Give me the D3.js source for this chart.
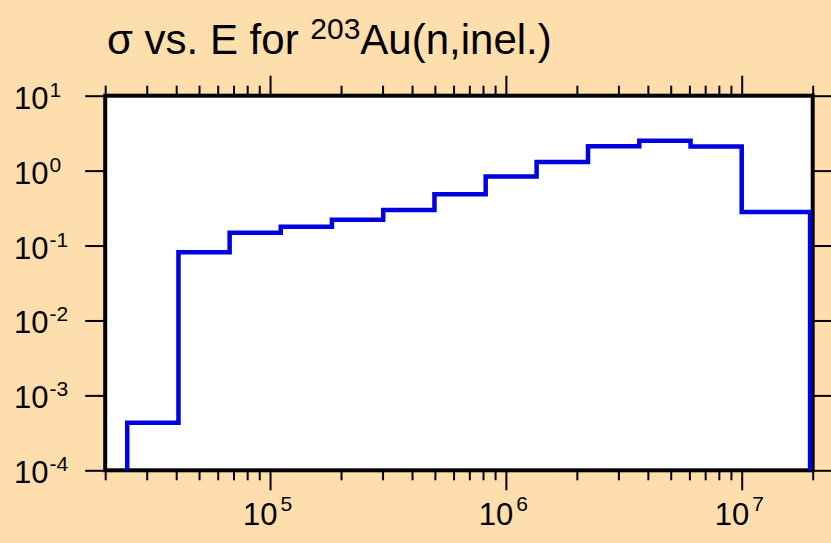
<!DOCTYPE html>
<html>
<head>
<meta charset="utf-8">
<script src="https://cdn.jsdelivr.net/npm/d3@7"></script>
<style>
  html, body { margin: 0; padding: 0; background: #ffdead; }
  svg { display: block; }
  text { font-family: "Liberation Sans", Arial, Helvetica, sans-serif; fill: #000; }
</style>
</head>
<body>
<script>
// ---- data ----
const binEdges = [2.48e4, 4.09e4, 6.74e4, 1.11e5, 1.83e5, 3.02e5, 4.98e5, 8.21e5,
                  1.35e6, 2.23e6, 3.68e6, 6.07e6, 1.0e7, 1.95e7];
const sigmaValues = [4.3e-4, 0.0813, 0.148, 0.178, 0.221, 0.298, 0.484, 0.835,
                     1.30, 2.12, 2.50, 2.10, 0.281];
const xMajorTicks = [1e5, 1e6, 1e7];
const xMajorExps = ["5", "6", "7"];
const yMajorTicks = [1e1, 1e0, 1e-1, 1e-2, 1e-3, 1e-4];
const yMajorExps = ["1", "0", "-1", "-2", "-3", "-4"];
const xDomain = [2e4, 2e7];
const yDomain = [1e-4, 1e1];
const titleParts = ["σ vs. E for ", "203", "Au(n,inel.)"];

// ---- layout ----
const W = 831, H = 543;
const x = d3.scaleLog().domain(xDomain).range([105.2, 812.7]);
const y = d3.scaleLog().domain(yDomain).range([470.3, 95.7]);

const svg = d3.select("body").append("svg").attr("width", W).attr("height", H);
svg.append("rect").attr("width", W).attr("height", H).attr("fill", "#ffdead");

const x0 = x.range()[0], x1 = x.range()[1];
const yb = y.range()[0], yt = y.range()[1];

// plot background
svg.append("rect").attr("x", x0).attr("y", yt).attr("width", x1 - x0).attr("height", yb - yt)
  .attr("fill", "#fff");

// minor x ticks
const xMinor = [];
for (let e = 4; e <= 7; e++) {
  for (let m = 2; m <= 9; m++) {
    const v = m * Math.pow(10, e);
    if (v >= xDomain[0] * 0.999 && v <= xDomain[1] * 1.001) xMinor.push(v);
  }
}

function styleAxis(g) {
  g.select(".domain").remove();
  g.selectAll(".tick line").attr("stroke", "#000").attr("stroke-width", 2);
  g.selectAll(".tick text").remove();
}

svg.append("g").attr("transform", `translate(0,${yb})`)
  .call(d3.axisBottom(x).tickValues(xMinor).tickSize(10).tickFormat("")).call(styleAxis);
svg.append("g").attr("transform", `translate(0,${yb})`)
  .call(d3.axisBottom(x).tickValues(xMajorTicks).tickSize(20).tickFormat("")).call(styleAxis);
svg.append("g").attr("transform", `translate(0,${yt})`)
  .call(d3.axisTop(x).tickValues(xMinor).tickSize(10).tickFormat("")).call(styleAxis);
svg.append("g").attr("transform", `translate(0,${yt})`)
  .call(d3.axisTop(x).tickValues(xMajorTicks).tickSize(20).tickFormat("")).call(styleAxis);
svg.append("g").attr("transform", `translate(${x0},0)`)
  .call(d3.axisLeft(y).tickValues(yMajorTicks).tickSize(20).tickFormat("")).call(styleAxis);
svg.append("g").attr("transform", `translate(${x1},0)`)
  .call(d3.axisRight(y).tickValues(yMajorTicks).tickSize(20).tickFormat("")).call(styleAxis);

// frame
svg.append("rect").attr("x", x0).attr("y", yt).attr("width", x1 - x0).attr("height", yb - yt)
  .attr("fill", "none").attr("stroke", "#000").attr("stroke-width", 4);

// step line
const pts = [[binEdges[0], yDomain[0] * 1e-3]];
sigmaValues.forEach((v, i) => {
  pts.push([binEdges[i], v]);
  pts.push([binEdges[i + 1], v]);
});
pts.push([binEdges[binEdges.length - 1], yDomain[0] * 1e-3]);

svg.append("clipPath").attr("id", "clip").append("rect")
  .attr("x", x0).attr("y", yt).attr("width", x1 - x0 + 3).attr("height", yb - yt);

svg.append("path")
  .attr("clip-path", "url(#clip)")
  .attr("d", d3.line().x(d => x(d[0])).y(d => y(d[1]))(pts))
  .attr("fill", "none").attr("stroke", "#0000e0").attr("stroke-width", 4.5)
  .attr("stroke-linejoin", "miter");

// x tick labels
xMajorTicks.forEach((v, i) => {
  const t = svg.append("text").attr("x", x(v) - 27).attr("y", 525).attr("font-size", 31);
  t.append("tspan").text("10");
  t.append("tspan").attr("font-size", 21).attr("dx", 3).attr("dy", -14).text(xMajorExps[i]);
});

// y tick labels
yMajorTicks.forEach((v, i) => {
  const t = svg.append("text").attr("x", 14).attr("y", y(v) + 13).attr("font-size", 31);
  t.append("tspan").text("10");
  t.append("tspan").attr("font-size", 21).attr("dx", 1).attr("dy", -12).text(yMajorExps[i]);
});

// title
const title = svg.append("text").attr("x", 107).attr("y", 54).attr("font-size", 42);
title.append("tspan").text(titleParts[0]);
title.append("tspan").attr("font-size", 30).attr("dy", -15).text(titleParts[1]);
title.append("tspan").attr("dy", 15).text(titleParts[2]);
</script>
</body>
</html>
